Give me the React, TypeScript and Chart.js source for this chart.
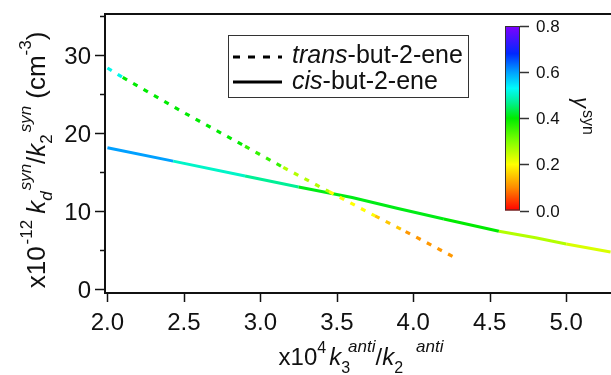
import React, { useEffect, useRef } from "react";
import { Chart, registerables } from "chart.js";

Chart.register(...registerables);

// ---- data ----
const transX = [2.0, 2.1, 2.5, 2.9, 3.15, 3.45, 3.75, 3.95, 4.26];
const transY = [28.3, 27.1, 22.6, 18.3, 15.6, 12.5, 9.4, 7.4, 4.2];
const transGamma = [0.52, 0.4, 0.4, 0.36, 0.26, 0.2, 0.15, 0.11, 0.11];

const cisX = [2.0, 2.43, 2.9, 3.25, 3.6, 3.9, 4.2, 4.56, 4.8, 5.0, 5.29];
const cisY = [18.1, 16.4, 14.5, 13.1, 11.75, 10.35, 9.0, 7.45, 6.6, 5.8, 4.8];
const cisGamma = [0.6, 0.5, 0.47, 0.41, 0.41, 0.41, 0.4, 0.26, 0.26, 0.23, 0.23];

const xTicks = [2.0, 2.5, 3.0, 3.5, 4.0, 4.5, 5.0];
const yMajorTicks = [0, 10, 20, 30];
const yMinorTicks = [5, 15, 25, 35];
const cbTicks = [0.0, 0.2, 0.4, 0.6, 0.8];

const FONT = "'Liberation Sans', Arial, sans-serif";

const cmapStops: [number, number[]][] = [
  [0.0, [255, 0, 0]],
  [0.1, [255, 140, 0]],
  [0.2, [255, 255, 0]],
  [0.3, [128, 255, 0]],
  [0.4, [0, 235, 0]],
  [0.47, [0, 240, 150]],
  [0.53, [0, 250, 250]],
  [0.6, [0, 160, 255]],
  [0.68, [0, 40, 255]],
  [0.8, [128, 0, 255]],
];

function cmap(v: number): string {
  if (v <= cmapStops[0][0]) return `rgb(${cmapStops[0][1].join(",")})`;
  for (let i = 1; i < cmapStops.length; i++) {
    const [v1, c1] = cmapStops[i];
    const [v0, c0] = cmapStops[i - 1];
    if (v <= v1) {
      const t = (v - v0) / (v1 - v0);
      const c = c0.map((a, k) => Math.round(a + (c1[k] - a) * t));
      return `rgb(${c.join(",")})`;
    }
  }
  return `rgb(${cmapStops[cmapStops.length - 1][1].join(",")})`;
}

type Piece = { t: string; size: number; italic?: boolean; dy?: number; dx?: number };

function richWidth(ctx: CanvasRenderingContext2D, pieces: Piece[]) {
  let w = 0;
  for (const p of pieces) {
    ctx.font = `${p.italic ? "italic " : ""}${p.size}px ${FONT}`;
    w += (p.dx || 0) + ctx.measureText(p.t).width;
  }
  return w;
}

function drawRich(ctx: CanvasRenderingContext2D, pieces: Piece[], x: number, y: number) {
  let cx = x;
  ctx.textAlign = "left";
  ctx.textBaseline = "alphabetic";
  for (const p of pieces) {
    cx += p.dx || 0;
    ctx.font = `${p.italic ? "italic " : ""}${p.size}px ${FONT}`;
    ctx.fillText(p.t, cx, y + (p.dy || 0));
    cx += ctx.measureText(p.t).width;
  }
}

const xTitle: Piece[] = [
  { t: "x10", size: 24 },
  { t: "4", size: 16, dy: -12 },
  { t: "k", size: 24, italic: true, dx: 3 },
  { t: "3", size: 16, dy: 8 },
  { t: "anti", size: 17, italic: true, dy: -13, dx: -2 },
  { t: "/", size: 24 },
  { t: "k", size: 24, italic: true },
  { t: "2", size: 16, dy: 8 },
  { t: "anti", size: 17, italic: true, dy: -13, dx: 13 },
];

const yTitle: Piece[] = [
  { t: "x10", size: 26 },
  { t: "-12", size: 17, dy: -13, dx: 2 },
  { t: "k", size: 26, italic: true, dx: 6 },
  { t: "d", size: 17, italic: true, dy: 7 },
  { t: "syn", size: 17, italic: true, dy: -14, dx: 1 },
  { t: "/", size: 26 },
  { t: "k", size: 26, italic: true },
  { t: "2", size: 17, dy: 7 },
  { t: "syn", size: 17, italic: true, dy: -14, dx: 2 },
  { t: "(cm", size: 26, dx: 7 },
  { t: "-3", size: 17, dy: -14 },
  { t: ")", size: 26 },
];

const overlayPlugin = {
  id: "overlay",
  afterDraw(chart: any) {
    const ctx: CanvasRenderingContext2D = chart.ctx;
    const xs = chart.scales.x;
    const ys = chart.scales.y;
    const { left, right, top, bottom } = chart.chartArea;
    ctx.save();
    ctx.fillStyle = "#111";
    ctx.strokeStyle = "#111";

    // axes frame
    ctx.lineWidth = 2;
    ctx.beginPath();
    ctx.moveTo(right, top);
    ctx.lineTo(left, top);
    ctx.lineTo(left, bottom);
    ctx.lineTo(right, bottom);
    ctx.stroke();

    // y ticks
    ctx.lineWidth = 1.5;
    for (const v of yMajorTicks) {
      const py = Math.round(ys.getPixelForValue(v)) + 0.5;
      ctx.beginPath();
      ctx.moveTo(left - 10, py);
      ctx.lineTo(left, py);
      ctx.stroke();
    }
    for (const v of yMinorTicks) {
      const py = Math.round(ys.getPixelForValue(v)) + 0.5;
      ctx.beginPath();
      ctx.moveTo(left - 5, py);
      ctx.lineTo(left, py);
      ctx.stroke();
    }
    ctx.font = `24px ${FONT}`;
    ctx.textAlign = "right";
    ctx.textBaseline = "alphabetic";
    for (const v of yMajorTicks) {
      const py = ys.getPixelForValue(v);
      ctx.fillText(String(v), left - 14, py + 9);
    }

    // x ticks
    ctx.textAlign = "center";
    for (const v of xTicks) {
      const px = Math.round(xs.getPixelForValue(v)) + 0.5;
      ctx.beginPath();
      ctx.moveTo(px, bottom);
      ctx.lineTo(px, bottom + 9);
      ctx.stroke();
      ctx.fillText(v.toFixed(1), xs.getPixelForValue(v), bottom + 37);
    }

    // x title
    const xw = richWidth(ctx, xTitle);
    drawRich(ctx, xTitle, 361 - xw / 2, 365);

    // y title (rotated)
    ctx.save();
    ctx.translate(45, 160);
    ctx.rotate(-Math.PI / 2);
    const yw = richWidth(ctx, yTitle);
    drawRich(ctx, yTitle, -yw / 2, 0);
    ctx.restore();

    // legend
    const lx = 228.5, ly = 35.5, lw = 240, lh = 62;
    ctx.fillStyle = "#fff";
    ctx.fillRect(lx, ly, lw, lh);
    ctx.strokeStyle = "#333";
    ctx.lineWidth = 1;
    ctx.strokeRect(lx, ly, lw, lh);
    ctx.strokeStyle = "#000";
    ctx.lineWidth = 3;
    ctx.setLineDash([7, 8]);
    ctx.beginPath();
    ctx.moveTo(233, 57);
    ctx.lineTo(282, 57);
    ctx.stroke();
    ctx.setLineDash([]);
    ctx.beginPath();
    ctx.moveTo(233, 82);
    ctx.lineTo(282, 82);
    ctx.stroke();
    ctx.fillStyle = "#111";
    drawRich(ctx, [{ t: "trans", size: 25, italic: true }, { t: "-but-2-ene", size: 25 }], 292, 63);
    drawRich(ctx, [{ t: "cis", size: 25, italic: true }, { t: "-but-2-ene", size: 25 }], 292, 89);

    // colorbar
    const cbL = 505, cbR = 520, cbT = 26, cbB = 210.5;
    const vMin = 0, vMax = 0.8;
    const cy = (v: number) => cbB - ((v - vMin) / (vMax - vMin)) * (cbB - cbT);
    const grad = ctx.createLinearGradient(0, cbB, 0, cbT);
    for (const [v, c] of cmapStops) {
      grad.addColorStop((v - vMin) / (vMax - vMin), `rgb(${c.join(",")})`);
    }
    ctx.fillStyle = grad;
    ctx.fillRect(cbL, cbT, cbR - cbL, cbB - cbT);
    ctx.strokeStyle = "#333";
    ctx.lineWidth = 1;
    ctx.strokeRect(cbL + 0.5, cbT + 0.5, cbR - cbL - 1, cbB - cbT - 1);
    ctx.lineWidth = 1.5;
    ctx.fillStyle = "#111";
    ctx.font = `17px ${FONT}`;
    ctx.textAlign = "left";
    ctx.textBaseline = "alphabetic";
    for (const v of cbTicks) {
      const py = Math.round(cy(v)) + 0.5;
      ctx.strokeStyle = "#333";
      ctx.beginPath();
      ctx.moveTo(cbR, py);
      ctx.lineTo(cbR + 9, py);
      ctx.stroke();
      ctx.fillText(v.toFixed(1), 536, cy(v) + 6);
    }
    // colorbar title (rotated clockwise)
    ctx.save();
    ctx.translate(574, 97);
    ctx.rotate(Math.PI / 2);
    drawRich(ctx, [{ t: "γ", size: 22, italic: true }, { t: "syn", size: 16, dy: -9, dx: 2 }], 0, 0);
    ctx.restore();

    ctx.restore();
  },
};

export default function App() {
  const ref = useRef<HTMLCanvasElement>(null);
  useEffect(() => {
    document.body.style.margin = "0";
    const canvas = ref.current!;
    const mk = (xs: number[], ys: number[]) => xs.map((x, i) => ({ x, y: ys[i] }));
    const chart = new Chart(canvas, {
      type: "scatter",
      data: {
        datasets: [
          {
            label: "trans-but-2-ene",
            data: mk(transX, transY),
            showLine: true,
            pointRadius: 0,
            borderWidth: 3.2,
            borderDash: [5, 7],
            borderCapStyle: "butt",
            borderColor: cmap(transGamma[0]),
            segment: {
              borderColor: (c: any) => cmap(transGamma[c.p0DataIndex]),
            },
          } as any,
          {
            label: "cis-but-2-ene",
            data: mk(cisX, cisY),
            showLine: true,
            pointRadius: 0,
            borderWidth: 3,
            borderColor: cmap(cisGamma[0]),
            segment: {
              borderColor: (c: any) => cmap(cisGamma[c.p0DataIndex]),
            },
          } as any,
        ],
      },
      options: {
        responsive: false,
        animation: false,
        events: [],
        layout: { padding: { left: 105, top: 14, right: 0, bottom: 82 } },
        plugins: { legend: { display: false }, tooltip: { enabled: false } },
        scales: {
          x: { type: "linear", display: false, min: 1.984, max: 5.293 },
          y: { type: "linear", display: false, min: -0.45, max: 35.2 },
        },
      },
      plugins: [overlayPlugin],
    });
    return () => chart.destroy();
  }, []);
  return <canvas ref={ref} width={611} height={375} style={{ display: "block" }} />;
}
